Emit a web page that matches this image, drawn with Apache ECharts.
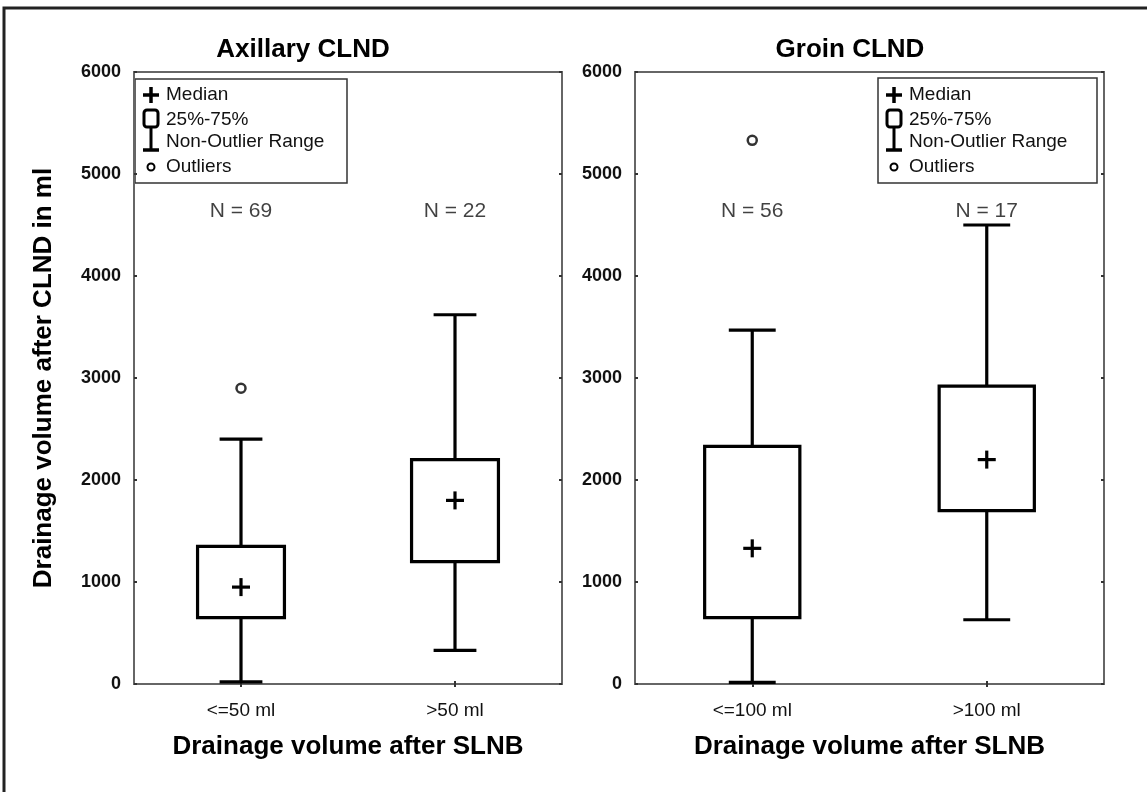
<!DOCTYPE html>
<html>
<head>
<meta charset="utf-8">
<title>Drainage volume boxplots</title>
<script src="https://cdn.jsdelivr.net/npm/echarts@6/dist/echarts.min.js"></script>
<style>
  html, body { margin: 0; padding: 0; background: #fff; }
  #chart { width: 1147px; height: 792px; }
</style>
</head>
<body>
<div id="chart"></div>
<script>
// --- data ---
var axCats = ['<=50 ml', '>50 ml'];
var axLow = [20, 330];
var axQ1 = [650, 1200];
var axMed = [950, 1800];
var axQ3 = [1350, 2200];
var axHigh = [2400, 3620];
var axOutliers = [[0, 2900]];
var axN = ['N = 69', 'N = 22'];

var grCats = ['<=100 ml', '>100 ml'];
var grLow = [15, 630];
var grQ1 = [650, 1700];
var grMed = [1330, 2200];
var grQ3 = [2330, 2920];
var grHigh = [3470, 4500];
var grOutliers = [[0, 5330]];
var grN = ['N = 56', 'N = 17'];

var nLabelY = 4640;

var font = "'Liberation Sans', Arial, sans-serif";

function boxRows(low, q1, med, q3, high) {
  var rows = [];
  for (var i = 0; i < low.length; i++) {
    rows.push([i, low[i], q1[i], med[i], q3[i], high[i]]);
  }
  return rows;
}

function nRows(labels) {
  var rows = [];
  for (var i = 0; i < labels.length; i++) {
    rows.push({ value: [i, nLabelY], label: { formatter: labels[i] } });
  }
  return rows;
}

// box + whiskers + median cross
function renderBox(params, api) {
  var c = api.value(0);
  var band = api.size([1, 0])[0];
  var halfBox = band * 0.203;
  var halfCap = band * 0.1;
  var pLow = api.coord([c, api.value(1)]);
  var pQ1 = api.coord([c, api.value(2)]);
  var pMed = api.coord([c, api.value(3)]);
  var pQ3 = api.coord([c, api.value(4)]);
  var pHigh = api.coord([c, api.value(5)]);
  var x = pMed[0];
  var st = { stroke: '#000', lineWidth: 3.2, fill: null };
  var plus = 9;
  return {
    type: 'group',
    children: [
      { type: 'line', shape: { x1: x, y1: pQ1[1], x2: x, y2: pLow[1] }, style: st },
      { type: 'line', shape: { x1: x, y1: pQ3[1], x2: x, y2: pHigh[1] }, style: st },
      { type: 'line', shape: { x1: x - halfCap, y1: pLow[1], x2: x + halfCap, y2: pLow[1] }, style: st },
      { type: 'line', shape: { x1: x - halfCap, y1: pHigh[1], x2: x + halfCap, y2: pHigh[1] }, style: st },
      { type: 'rect', shape: { x: x - halfBox, y: pQ3[1], width: halfBox * 2, height: pQ1[1] - pQ3[1] },
        style: { stroke: '#000', lineWidth: 3.2, fill: '#fff' } },
      { type: 'line', shape: { x1: x - plus, y1: pMed[1], x2: x + plus, y2: pMed[1] }, style: st },
      { type: 'line', shape: { x1: x, y1: pMed[1] - plus, x2: x, y2: pMed[1] + plus }, style: st }
    ]
  };
}

// legend drawn by hand (icons like the original software)
function legendBox(left, top, w, h) {
  var tx = left + 31;
  var ix = left + 16;
  var rowY = [95, 120, 142, 167];
  var lineSt = { stroke: '#000', lineWidth: 3.5 };
  var txt = function (y, s) {
    return { type: 'text', x: tx, y: y, style: { text: s, font: '19px ' + font, fill: '#111', verticalAlign: 'middle' } };
  };
  return {
    type: 'group',
    children: [
      { type: 'rect', shape: { x: left, y: top, width: w, height: h }, style: { fill: '#fff', stroke: '#333', lineWidth: 1.5 } },
      { type: 'line', shape: { x1: ix - 8, y1: rowY[0], x2: ix + 8, y2: rowY[0] }, style: lineSt },
      { type: 'line', shape: { x1: ix, y1: rowY[0] - 8, x2: ix, y2: rowY[0] + 8 }, style: lineSt },
      { type: 'rect', shape: { x: ix - 7, y: rowY[1] - 10, width: 14, height: 17, r: 3 }, style: { fill: '#fff', stroke: '#000', lineWidth: 3 } },
      { type: 'line', shape: { x1: ix, y1: rowY[1] + 7, x2: ix, y2: rowY[2] + 8 }, style: { stroke: '#000', lineWidth: 3 } },
      { type: 'line', shape: { x1: ix - 8, y1: rowY[2] + 8, x2: ix + 8, y2: rowY[2] + 8 }, style: lineSt },
      { type: 'circle', shape: { cx: ix, cy: rowY[3], r: 3.5 }, style: { fill: '#fff', stroke: '#000', lineWidth: 2 } },
      txt(rowY[0], 'Median'),
      txt(rowY[1], '25%-75%'),
      txt(rowY[2], 'Non-Outlier Range'),
      txt(rowY[3], 'Outliers')
    ]
  };
}

var grids = [
  { left: 134, top: 72, width: 428, height: 612 },
  { left: 635, top: 72, width: 469, height: 612 }
];

function xAxisFor(idx, cats) {
  return {
    type: 'category', gridIndex: idx, data: cats, boundaryGap: true,
    axisLine: { show: true, lineStyle: { color: '#666', width: 2 } },
    axisTick: { show: true, inside: true, alignWithLabel: true, length: 3, lineStyle: { color: '#333', width: 2 } },
    axisLabel: { fontSize: 19, fontFamily: font, color: '#111', margin: 17 },
    name: 'Drainage volume after SLNB', nameLocation: 'middle', nameGap: 50,
    nameTextStyle: { fontSize: 26, fontWeight: 'bold', fontFamily: font, color: '#000' }
  };
}

function topAxisFor(idx, cats) {
  return {
    type: 'category', gridIndex: idx, data: cats, position: 'top', boundaryGap: true,
    axisLine: { show: false },
    axisTick: { show: true, inside: true, alignWithLabel: true, length: 3, lineStyle: { color: '#333', width: 2 } },
    axisLabel: { show: false }
  };
}

function yAxisFor(idx, withName) {
  var ax = {
    type: 'value', gridIndex: idx, min: 0, max: 6000, interval: 1000,
    axisLine: { show: true, lineStyle: { color: '#666', width: 2 } },
    axisTick: { show: true, inside: true, length: 3, lineStyle: { color: '#333', width: 2 } },
    splitLine: { show: false },
    axisLabel: { fontSize: 18, fontWeight: 'bold', fontFamily: font, color: '#111', margin: 13,
      formatter: function (v) { return String(v); } }
  };
  if (withName) {
    ax.name = 'Drainage volume after CLND in ml';
    ax.nameLocation = 'middle';
    ax.nameGap = 77;
    ax.nameTextStyle = { fontSize: 26, fontWeight: 'bold', fontFamily: font, color: '#000' };
  }
  return ax;
}

function rightAxisFor(idx) {
  return {
    type: 'value', gridIndex: idx, min: 0, max: 6000, interval: 1000, position: 'right',
    axisLine: { show: false },
    axisTick: { show: true, inside: true, length: 3, lineStyle: { color: '#333', width: 2 } },
    splitLine: { show: false },
    axisLabel: { show: false }
  };
}

function nSeries(idx, labels) {
  return {
    type: 'scatter', xAxisIndex: idx, yAxisIndex: idx, symbolSize: 0, silent: true,
    data: nRows(labels),
    label: { show: true, position: 'inside', fontSize: 21, fontFamily: font, color: '#111' }
  };
}

function outlierSeries(idx, pts) {
  return {
    type: 'scatter', xAxisIndex: idx, yAxisIndex: idx, symbol: 'circle', symbolSize: 9,
    data: pts, z: 5,
    itemStyle: { color: '#fff', borderColor: '#000', borderWidth: 2.5 }
  };
}

var chart = echarts.init(document.getElementById('chart'), null, { renderer: 'canvas' });

chart.setOption({
  backgroundColor: '#fff',
  animation: false,
  title: [
    { text: 'Axillary CLND', left: 298, top: 32, textAlign: 'center',
      textStyle: { fontSize: 26, fontWeight: 'bold', fontFamily: font, color: '#000' } },
    { text: 'Groin CLND', left: 845, top: 32, textAlign: 'center',
      textStyle: { fontSize: 26, fontWeight: 'bold', fontFamily: font, color: '#000' } }
  ],
  grid: [
    Object.assign({ show: true, borderColor: '#666', borderWidth: 2, backgroundColor: '#fff' }, grids[0]),
    Object.assign({ show: true, borderColor: '#666', borderWidth: 2, backgroundColor: '#fff' }, grids[1])
  ],
  xAxis: [xAxisFor(0, axCats), xAxisFor(1, grCats), topAxisFor(0, axCats), topAxisFor(1, grCats)],
  yAxis: [yAxisFor(0, true), yAxisFor(1, false), rightAxisFor(0), rightAxisFor(1)],
  series: [
    { type: 'custom', xAxisIndex: 0, yAxisIndex: 0, renderItem: renderBox,
      data: boxRows(axLow, axQ1, axMed, axQ3, axHigh), encode: { x: 0, y: [1, 2, 3, 4, 5] } },
    { type: 'custom', xAxisIndex: 1, yAxisIndex: 1, renderItem: renderBox,
      data: boxRows(grLow, grQ1, grMed, grQ3, grHigh), encode: { x: 0, y: [1, 2, 3, 4, 5] } },
    outlierSeries(0, axOutliers),
    outlierSeries(1, grOutliers),
    nSeries(0, axN),
    nSeries(1, grN)
  ],
  graphic: [
    { type: 'rect', shape: { x: 4, y: 8, width: 1160, height: 800 },
      style: { fill: null, stroke: '#222', lineWidth: 3 }, z: 100 },
    Object.assign(legendBox(135, 79, 212, 104), { z: 50 }),
    Object.assign(legendBox(878, 78, 219, 105), { z: 50 })
  ]
});
</script>
</body>
</html>
